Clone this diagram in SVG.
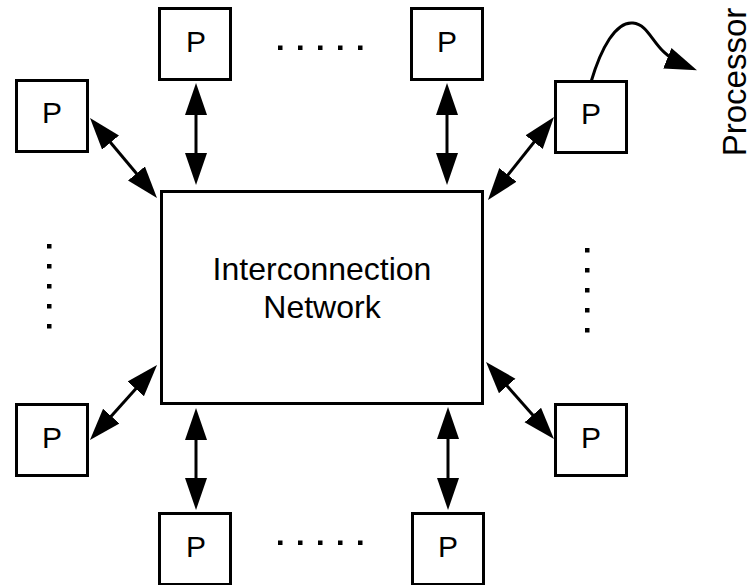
<svg xmlns="http://www.w3.org/2000/svg" width="752" height="585" viewBox="0 0 752 585">
<style>
.box{fill:#fff;stroke:#000;stroke-width:3}
.p{font-family:"Liberation Sans",Arial,sans-serif;font-size:30px;text-anchor:middle;fill:#000}
.lbl{font-family:"Liberation Sans",Arial,sans-serif;font-size:32px;text-anchor:middle;fill:#000}
.c{fill:none;stroke:#000;stroke-width:3}
.dot{fill:#000}
</style>
<defs>
<marker id="ah" markerUnits="userSpaceOnUse" markerWidth="34" markerHeight="24" refX="18" refY="11" orient="auto-start-reverse" viewBox="0 0 34 24">
<path d="M0,0 L32,11 L0,22 z" fill="#000"/>
</marker>
</defs>
<rect width="752" height="585" fill="#fff"/>
<g id="network"><rect class="box" x="161.5" y="191.5" width="321" height="212"/>
<text class="lbl" x="322" y="280">Interconnection</text>
<text class="lbl" x="322" y="318">Network</text></g>
<g id="p-top1"><rect class="box" x="159.5" y="8.5" width="71" height="71"/><text class="p" x="196" y="52">P</text></g>
<g id="p-top2"><rect class="box" x="411.5" y="8.5" width="71" height="71"/><text class="p" x="447" y="52">P</text></g>
<g id="p-left-top"><rect class="box" x="16.5" y="80.5" width="71" height="71"/><text class="p" x="52" y="123">P</text></g>
<g id="p-right-top"><rect class="box" x="555.5" y="81.5" width="71" height="71"/><text class="p" x="591" y="124">P</text></g>
<g id="p-left-bottom"><rect class="box" x="16.5" y="404.5" width="71" height="71"/><text class="p" x="52" y="448">P</text></g>
<g id="p-right-bottom"><rect class="box" x="555.5" y="404.5" width="71" height="71"/><text class="p" x="591" y="448">P</text></g>
<g id="p-bottom1"><rect class="box" x="159.5" y="513.5" width="71" height="71"/><text class="p" x="196" y="557">P</text></g>
<g id="p-bottom2"><rect class="box" x="412.5" y="513.5" width="71" height="71"/><text class="p" x="448" y="557">P</text></g>
<g id="processor-label"><text class="lbl" style="font-size:33px" transform="translate(746,82) rotate(-90)">Processor</text></g>
<g id="dots">
<rect class="dot" x="278" y="45.5" width="4.5" height="4.5"/><rect class="dot" x="298" y="45.5" width="4.5" height="4.5"/><rect class="dot" x="318" y="45.5" width="4.5" height="4.5"/><rect class="dot" x="338" y="45.5" width="4.5" height="4.5"/><rect class="dot" x="358" y="45.5" width="4.5" height="4.5"/>
<rect class="dot" x="278" y="540.5" width="4.5" height="4.5"/><rect class="dot" x="298" y="540.5" width="4.5" height="4.5"/><rect class="dot" x="318" y="540.5" width="4.5" height="4.5"/><rect class="dot" x="338" y="540.5" width="4.5" height="4.5"/><rect class="dot" x="358" y="540.5" width="4.5" height="4.5"/>
<rect class="dot" x="47" y="244" width="4.5" height="4.5"/><rect class="dot" x="47" y="264" width="4.5" height="4.5"/><rect class="dot" x="47" y="284" width="4.5" height="4.5"/><rect class="dot" x="47" y="304" width="4.5" height="4.5"/><rect class="dot" x="47" y="324" width="4.5" height="4.5"/>
<rect class="dot" x="585" y="248" width="4.5" height="4.5"/><rect class="dot" x="585" y="268" width="4.5" height="4.5"/><rect class="dot" x="585" y="288" width="4.5" height="4.5"/><rect class="dot" x="585" y="308" width="4.5" height="4.5"/><rect class="dot" x="585" y="328" width="4.5" height="4.5"/>
</g>
<g id="connectors">
<path class="c" d="M196,97 L196,171" marker-start="url(#ah)" marker-end="url(#ah)"/>
<path class="c" d="M447,97 L447,171" marker-start="url(#ah)" marker-end="url(#ah)"/>
<path class="c" d="M196,422 L196,496" marker-start="url(#ah)" marker-end="url(#ah)"/>
<path class="c" d="M448,421 L448,496" marker-start="url(#ah)" marker-end="url(#ah)"/>
<path class="c" d="M99,128.7 L148,187.3" marker-start="url(#ah)" marker-end="url(#ah)"/>
<path class="c" d="M545.3,128 L496.7,189" marker-start="url(#ah)" marker-end="url(#ah)"/>
<path class="c" d="M147.7,375.4 L99.3,429.6" marker-start="url(#ah)" marker-end="url(#ah)"/>
<path class="c" d="M495.3,372.5 L544.7,428.5" marker-start="url(#ah)" marker-end="url(#ah)"/>
<path class="c" d="M591,82 C601,48 616,21 633,23 C652,25 652,52 684,65" marker-end="url(#ah)"/>
</g>
</svg>
